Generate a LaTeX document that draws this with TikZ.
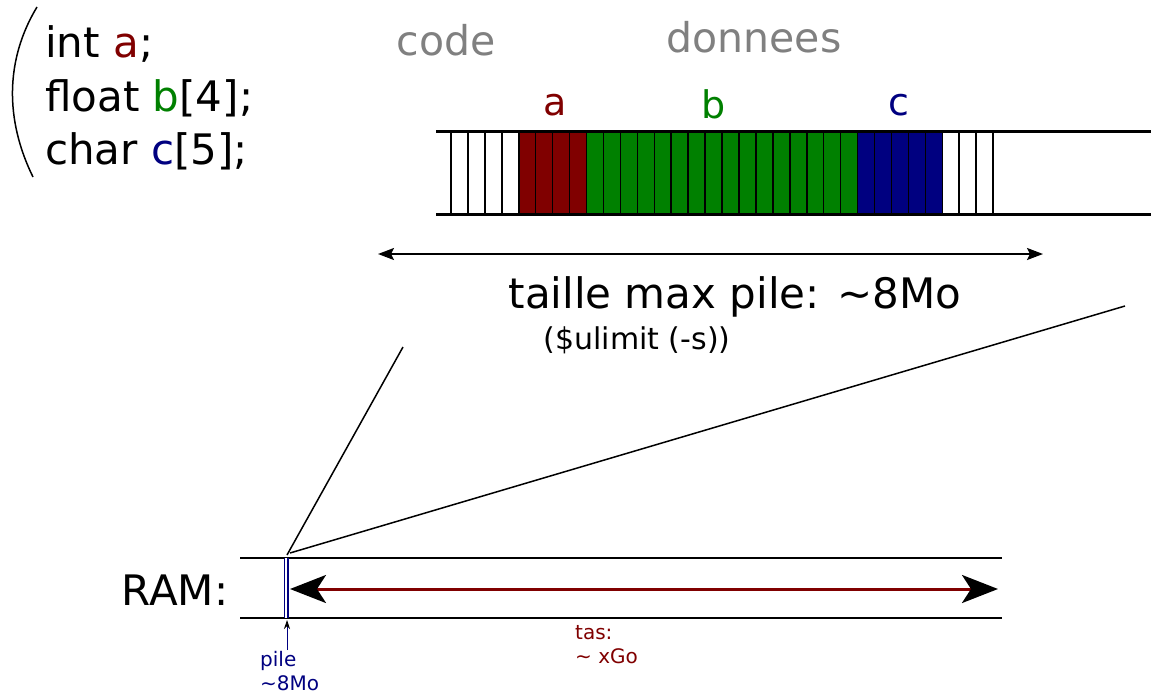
\documentclass[tikz,border=0pt]{standalone}
\usepackage{fontspec}
\setmainfont{DejaVu Sans}
\usetikzlibrary{positioning,arrows.meta,calc}
\definecolor{var_red}{HTML}{800000}
\definecolor{var_green}{HTML}{008000}
\definecolor{var_blue}{HTML}{000080}
\definecolor{label_grey}{HTML}{808080}
\tikzstyle{rail}      = [draw, line width=3pt]
\tikzstyle{thinrail}  = [draw, line width=1.5pt]
\tikzstyle{byte}      = [draw, line width=1.5pt, fill=white]
\tikzstyle{codeline}  = [anchor=base west, inner sep=0pt, font=\fontsize{42}{50}\selectfont]
\tikzstyle{section}   = [text=label_grey, font=\fontsize{41}{48}\selectfont]
\tikzstyle{varname}   = [font=\fontsize{38}{46}\selectfont]
\tikzstyle{small}     = [anchor=north west, inner sep=0pt, align=left, font=\fontsize{20}{24}\selectfont]
\tikzstyle{zoomline}  = [draw, line width=1.5pt]
\newcommand{\cellw}{16.94}

\begin{document}
\begin{tikzpicture}[x=1pt, y=-1pt]
   \useasboundingbox (0,0) rectangle (1151,696);

   % Code
   \draw [line width=1.5pt] (37,7) .. controls (5,60) and (5,120) .. (33,177);
   \node at (45, 57) [codeline] (int line) {int \textcolor{var_red}{a};};
   \node at (45, 111) [codeline] (float line) {float \textcolor{var_green}{b}[4];};
   \node at (45, 164) [codeline] (char line) {char \textcolor{var_blue}{c}[5];};

   % Stack
   \node at (446, 40) [section] (code label) {code};
   \node at (754, 37) [section] (data label) {donnees};
   \foreach \i in {0,...,31} {
      \pgfmathsetmacro{\xl}{451+\i*\cellw}
      \ifnum\i<4 \def\col{white}\else
      \ifnum\i<8 \def\col{var_red}\else
      \ifnum\i<24 \def\col{var_green}\else
      \ifnum\i<29 \def\col{var_blue}\else
      \def\col{white}\fi\fi\fi\fi
      \path [byte, fill=\col] (\xl,131) rectangle ++(\cellw,83);
   }
   \path [rail] (436,131) -- (1151,131);
   \path [rail] (436,214) -- (1151,214);
   \node at (555, 105) [varname, text=var_red] (a label) {a};
   \node at (714, 104) [varname, text=var_green] (b label) {b};
   \node at (899, 105) [varname, text=var_blue] (c label) {c};

   % Max stack size
   \coordinate (size left) at (378,254);
   \coordinate (size right) at (1043,254);
   \draw [line width=2pt, {Stealth[length=16pt,width=12pt,inset=3pt]}-{Stealth[length=16pt,width=12pt,inset=3pt]}] (size left) -- (size right);
   \node at (735, 297) [font=\fontsize{42}{50}\selectfont] (size text) {taille max pile: \textasciitilde8Mo};
   \node at (637, 340) [font=\fontsize{30}{36}\selectfont] (ulimit text) {(\$ulimit (-s))};

   % RAM
   \node at (175, 590) [font=\fontsize{42}{50}\selectfont] (ram label) {RAM:};
   \path [thinrail] (240,558) -- (1002,558);
   \path [thinrail] (240,618) -- (1002,618);
   \draw [var_blue, line width=1.2pt, double=white, double distance=2pt] (286.3,558) -- (286.3,618);
   \coordinate (pile top) at (287,555);
   \coordinate (pile bottom) at (287,620);
   \coordinate (heap left) at (290,589);
   \coordinate (heap right) at (998,589);
   \draw [var_red, line width=3pt, {Stealth[black,length=36pt,width=28pt,inset=9pt]}-{Stealth[black,length=36pt,width=28pt,inset=9pt]}] (heap left) -- (heap right);

   % Zoom
   \coordinate (zoom left) at (403,347);
   \coordinate (zoom right) at (1125,306);
   \path [zoomline] (zoom left) -- (pile top);
   \path [zoomline] (zoom right) -- ($(pile top)+(3,-2)$);

   % Labels
   \coordinate (pile arrow) at (287,650);
   \draw [var_blue, line width=0.8pt, -{Stealth[black,length=9pt,width=6pt]}] (pile arrow) -- (pile bottom);
   \node at (260, 651) [small, text=var_blue] (pile text) {pile\\\textasciitilde8Mo};
   \node at (575, 625) [small, text=var_red] (heap text) {tas:\\\textasciitilde\ xGo};
\end{tikzpicture}
\end{document}
